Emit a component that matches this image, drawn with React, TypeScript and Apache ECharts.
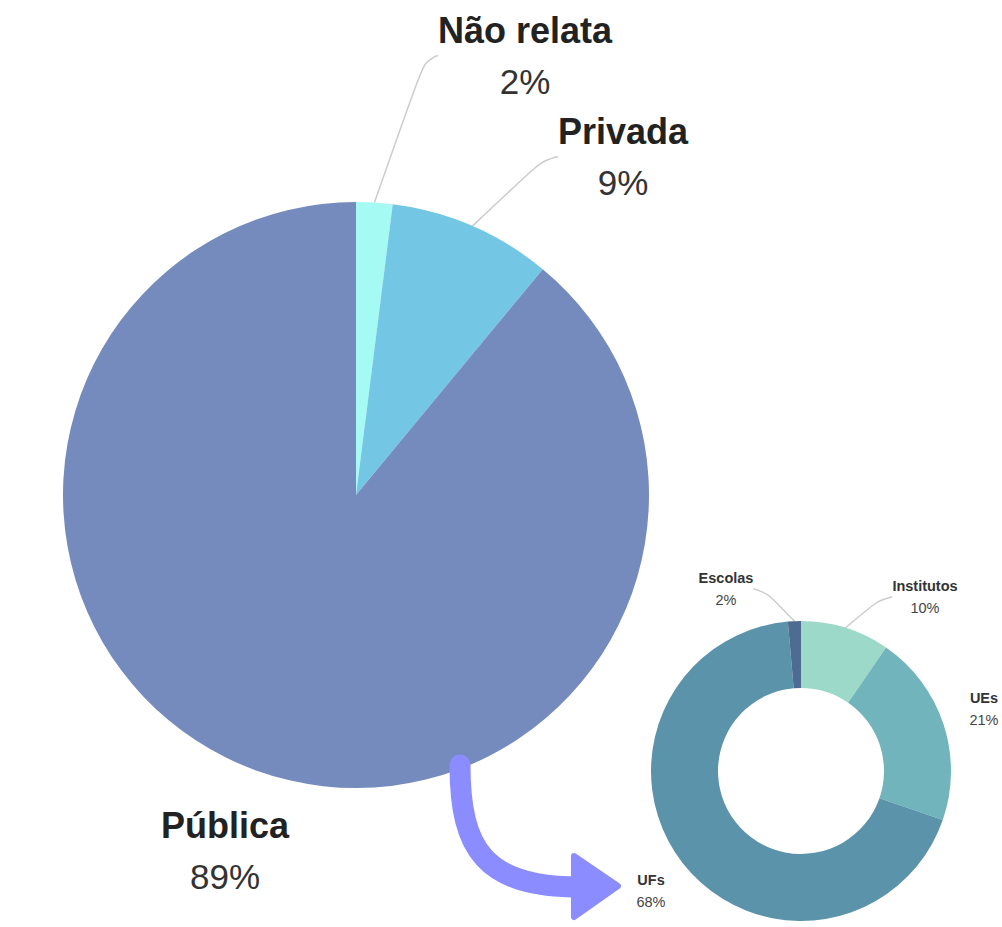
import React, { useEffect, useRef } from "react";
import * as echarts from "echarts";

const mainNames = ["Não relata", "Privada", "Pública"];
const mainValues = [2, 9, 89];
const mainColors = ["#A6FAF4", "#74C7E4", "#758BBD"];
const mainLabelPos: [number, number][] = [
  [525, 56],
  [623, 157],
  [225, 851],
];
const mainShowLine = [true, true, false];

const subNames = ["Institutos", "UEs", "UFs", "Escolas"];
const subValues = [10, 21, 68, 2];
const subAngles = [9.6, 20.7, 68.3, 1.4];
const subColors = ["#9DD9C9", "#72B4BC", "#5B93AB", "#4E6B92"];
const subLabelPos: [number, number][] = [
  [925, 597],
  [984, 709],
  [651, 891],
  [726, 589],
];
const subShowLine = [true, false, false, true];

export default function App() {
  const ref = useRef<HTMLDivElement>(null);
  useEffect(() => {
    if (!ref.current) return;
    const chart = echarts.init(ref.current, undefined, { renderer: "svg" });
    const font = "'Liberation Sans', Arial, sans-serif";
    chart.setOption({
      animation: false,
      backgroundColor: "#ffffff",
      series: [
        {
          type: "pie",
          center: [356, 495],
          radius: [0, 293],
          startAngle: 90,
          clockwise: true,
          silent: true,
          data: mainNames.map((n, i) => ({
            name: n,
            value: mainValues[i],
            itemStyle: { color: mainColors[i] },
            labelLine: { show: mainShowLine[i] },
          })),
          label: {
            show: true,
            position: "outside",
            overflow: "none",
            formatter: "{n|{b}}\n{p|{c}%}",
            padding: [0, 22],
            rich: {
              n: { fontFamily: font, fontWeight: "bold", fontSize: 36, color: "#222", lineHeight: 51, align: "center" },
              p: { fontFamily: font, fontSize: 35, color: "#333", lineHeight: 51, align: "center" },
            },
          },
          labelLine: { show: true, length: 20, length2: 12, smooth: 0.8, lineStyle: { color: "#cccccc", width: 1.5 } },
          labelLayout: (params: any) => {
            const p = mainLabelPos[params.dataIndex];
            return { x: p[0], y: p[1], align: "center", verticalAlign: "middle" };
          },
        },
        {
          type: "pie",
          center: [801, 771],
          radius: [83, 150],
          startAngle: 90,
          clockwise: true,
          silent: true,
          data: subNames.map((n, i) => ({
            name: n,
            value: subAngles[i],
            itemStyle: { color: subColors[i] },
            labelLine: { show: subShowLine[i] },
          })),
          label: {
            show: true,
            position: "outside",
            overflow: "none",
            formatter: (p: any) => `{n|${p.name}}\n{p|${subValues[p.dataIndex]}%}`,
            padding: [0, 6],
            rich: {
              n: { fontFamily: font, fontWeight: "bold", fontSize: 14.5, color: "#333", lineHeight: 22, align: "center" },
              p: { fontFamily: font, fontSize: 14.5, color: "#444", lineHeight: 22, align: "center" },
            },
          },
          labelLine: { show: true, length: 10, length2: 10, smooth: 0.8, lineStyle: { color: "#cccccc", width: 1.5 } },
          labelLayout: (params: any) => {
            const p = subLabelPos[params.dataIndex];
            return { x: p[0], y: p[1], align: "center", verticalAlign: "middle" };
          },
        },
      ],
      graphic: [
        {
          type: "bezierCurve",
          z: 100,
          shape: { x1: 460, y1: 765, cpx1: 460, cpy1: 850, cpx2: 485, cpy2: 887, x2: 580, y2: 887 },
          style: { stroke: "#8A8CFF", lineWidth: 21, lineCap: "round", fill: null },
        },
        {
          type: "polygon",
          z: 100,
          shape: { points: [[574, 856], [618, 886], [574, 917]] },
          style: { fill: "#8A8CFF", stroke: "#8A8CFF", lineWidth: 6, lineJoin: "round" },
        },
      ],
    });
    return () => chart.dispose();
  }, []);
  return (
    <div
      ref={ref}
      style={{ position: "fixed", left: 0, top: 0, width: 1002, height: 927, background: "#fff" }}
    />
  );
}
